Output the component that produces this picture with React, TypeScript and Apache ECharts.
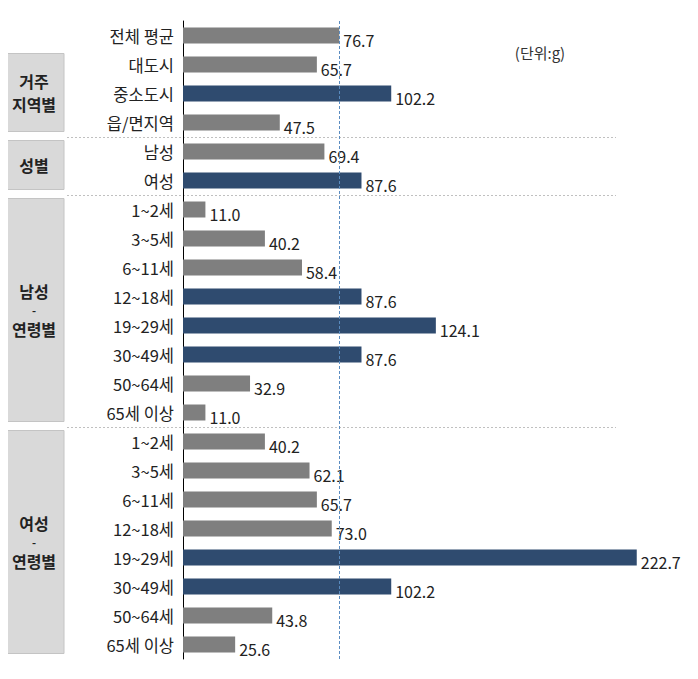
import React, { useEffect, useRef } from "react";
import * as echarts from "echarts";

const categories = [
  "전체 평균", "대도시", "중소도시", "읍/면지역",
  "남성", "여성",
  "1~2세", "3~5세", "6~11세", "12~18세", "19~29세", "30~49세", "50~64세", "65세 이상",
  "1~2세", "3~5세", "6~11세", "12~18세", "19~29세", "30~49세", "50~64세", "65세 이상",
];
const values = [
  76.7, 65.7, 102.2, 47.5,
  69.4, 87.6,
  11.0, 40.2, 58.4, 87.6, 124.1, 87.6, 32.9, 11.0,
  40.2, 62.1, 65.7, 73.0, 222.7, 102.2, 43.8, 25.6,
];
const highlighted = [
  false, false, true, false,
  false, true,
  false, false, false, true, true, true, false, false,
  false, false, false, false, true, true, false, false,
];
const groups = [
  { lines: ["거주", "지역별"], from: 1, to: 3 },
  { lines: ["성별"], from: 4, to: 5 },
  { lines: ["남성", "-", "연령별"], from: 6, to: 13 },
  { lines: ["여성", "-", "연령별"], from: 14, to: 21 },
];
const averageValue = 76.7;
const unitText = "(단위:g)";

const GRAY = "#7f7f7f";
const BLUE = "#2f4b6f";
const FONT = "'Noto Sans CJK KR', 'Noto Sans', sans-serif";

export default function App() {
  const ref = useRef<HTMLDivElement>(null);
  useEffect(() => {
    const chart = echarts.init(ref.current!, null, { renderer: "svg" });
    const keys = categories.map((_, i) => String(i));
    chart.setOption({
      animation: false,
      textStyle: { fontFamily: FONT },
      grid: { left: 183, right: 26, top: 21, bottom: 20, containLabel: false },
      xAxis: {
        type: "value",
        min: 0,
        max: 240,
        show: false,
      },
      yAxis: {
        type: "category",
        inverse: true,
        data: keys,
        axisLine: { show: true, lineStyle: { color: "#000", width: 1 } },
        axisTick: { show: false },
        axisLabel: {
          margin: 9,
          fontSize: 16.5,
          color: "#222",
          fontFamily: FONT,
          formatter: (v: string) => categories[Number(v)],
        },
        splitLine: { show: false },
      },
      series: [
        {
          type: "bar",
          barWidth: 16,
          data: values.map((v, i) => ({
            value: v,
            itemStyle: { color: highlighted[i] ? BLUE : GRAY },
          })),
          label: {
            show: true,
            position: "right",
            distance: 4,
            offset: [0, 4],
            fontSize: 16,
            color: "#222",
            fontFamily: FONT,
            formatter: (p: any) => Number(p.value).toFixed(1),
          },
          markLine: {
            silent: true,
            symbol: "none",
            label: { show: false },
            lineStyle: { type: [3, 2], color: "#5a8cc0", width: 1 },
            data: [{ xAxis: averageValue }],
          },
          z: 2,
        },
      ],
    });

    const yOf = (i: number) =>
      chart.convertToPixel({ yAxisIndex: 0 }, String(i)) as number;
    const graphics: any[] = [];
    groups.forEach((g) => {
      const top = yOf(g.from) - 11;
      const bottom = yOf(g.to) + 9;
      graphics.push({
        type: "rect",
        shape: { x: 4, y: top, width: 60, height: bottom - top },
        style: { fill: "#d9d9d9", stroke: "#c4c4c4", lineWidth: 1 },
      });
      const mid = (top + bottom) / 2;
      const n = g.lines.length;
      const lineGap = n === 2 ? 23.5 : 19;
      g.lines.forEach((t, j) => {
        const isDash = t === "-";
        graphics.push({
          type: "text",
          x: 34,
          y: mid + (j - (n - 1) / 2) * lineGap,
          style: {
            text: t,
            fontSize: isDash ? 11 : 16,
            fontWeight: "bold",
            fill: "#222",
            fontFamily: FONT,
            align: "center",
            verticalAlign: "middle",
          },
        });
      });
    });
    for (let k = 0; k < groups.length - 1; k++) {
      const a = groups[k].to;
      const y = Math.round((yOf(a) + yOf(a + 1)) / 2) + 0.5;
      graphics.push({
        type: "line",
        shape: { x1: 67, y1: y, x2: 616, y2: y },
        style: { stroke: "#c0c0c0", lineWidth: 1, lineDash: [2, 2] },
      });
    }
    graphics.push({
      type: "text",
      x: 540,
      y: 52,
      style: {
        text: unitText,
        fontSize: 15,
        fill: "#333",
        fontFamily: FONT,
        align: "center",
        verticalAlign: "middle",
      },
    });
    chart.setOption({ graphic: graphics });

    return () => chart.dispose();
  }, []);
  return <div ref={ref} style={{ width: 698, height: 679, margin: -8 }} />;
}
